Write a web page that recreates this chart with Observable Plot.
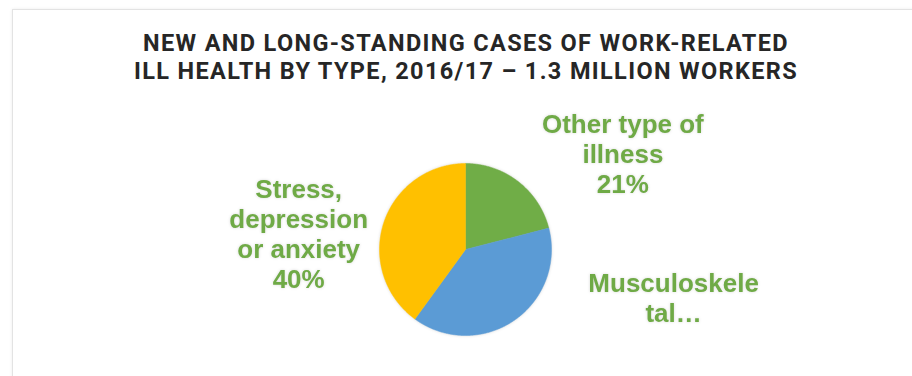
<!DOCTYPE html>
<html>
<head>
<meta charset="utf-8">
<script src="https://cdn.jsdelivr.net/npm/d3@7"></script>
<script src="https://cdn.jsdelivr.net/npm/@observablehq/plot@0.6"></script>
<style>
  html, body { margin: 0; padding: 0; background: #ffffff; }
  #wrap { position: relative; width: 912px; height: 376px; overflow: hidden; background: #fff; }
  #card { position: absolute; left: 12px; top: 9px; width: 960px; height: 420px;
          border: 1px solid #e3e3e3; box-shadow: 0 0 3px rgba(0,0,0,0.08); background: #fff; }
  #title { position: absolute; left: 0; top: 29px; width: 932px; text-align: center;
           font-family: Roboto, "DejaVu Sans", sans-serif; font-weight: 700; font-size: 23.5px;
           line-height: 28px; color: #262626; letter-spacing: 1.35px; }
  #chart { position: absolute; left: 0; top: 0; }
</style>
</head>
<body>
<div id="wrap">
  <div id="card"></div>
  <div id="chart"></div>
  <div id="title">NEW AND LONG-STANDING CASES OF WORK-RELATED<br>ILL HEALTH BY TYPE, 2016/17 – 1.3 MILLION WORKERS</div>
</div>
<script>
// ---- data ----
const categories = ["Other type of illness", "Musculoskeletal", "Stress, depression or anxiety"];
const values = [21, 39, 40];
const labels = ["Other type of\nillness\n21%", "Musculoskele\ntal…", "Stress,\ndepression\nor anxiety\n40%"];
const colors = ["#70AD47", "#5B9BD5", "#FFC000"];

// ---- layout (label offsets in pie-radius units) ----
const labelOffsets = [[1.83, 1.12], [2.42, -0.56], [-1.94, 0.19]];

const W = 912, H = 376, cx = 465, cy = 249, R = 86;

const arcs = d3.pie().sort(null).value(d => d)(values);
const slicePts = [];
arcs.forEach((a, i) => {
  const pts = [{k: i, x: 0, y: 0}];
  const n = Math.max(4, Math.ceil((a.endAngle - a.startAngle) / (Math.PI / 360)));
  for (let j = 0; j <= n; j++) {
    const t = a.startAngle + (a.endAngle - a.startAngle) * j / n;
    pts.push({k: i, x: Math.sin(t), y: Math.cos(t)});
  }
  pts.push({k: i, x: 0, y: 0});
  slicePts.push(pts);
});

const labelData = categories.map((c, i) => ({
  c, text: labels[i], x: labelOffsets[i][0], y: labelOffsets[i][1]
}));

const plot = Plot.plot({
  width: W, height: H,
  margin: 0,
  x: {domain: [-cx / R, (W - cx) / R], axis: null},
  y: {domain: [-(H - cy) / R, cy / R], axis: null},
  marks: [
    ...slicePts.map((pts, i) => Plot.line(pts, {
      x: "x", y: "y", fill: colors[i], stroke: colors[i], strokeWidth: 0.5, curve: "linear"
    })),
    Plot.text(labelData, {
      x: "x", y: "y", text: "text",
      fill: "#6FAA46", fontSize: 26, fontWeight: "bold", lineHeight: 1.16,
      fontFamily: "Liberation Sans, Arial, sans-serif", textAnchor: "middle"
    })
  ]
});
plot.style.filter = "drop-shadow(0 0 1.5px rgba(0,0,0,0.15))";
document.getElementById("chart").appendChild(plot);
</script>
</body>
</html>
